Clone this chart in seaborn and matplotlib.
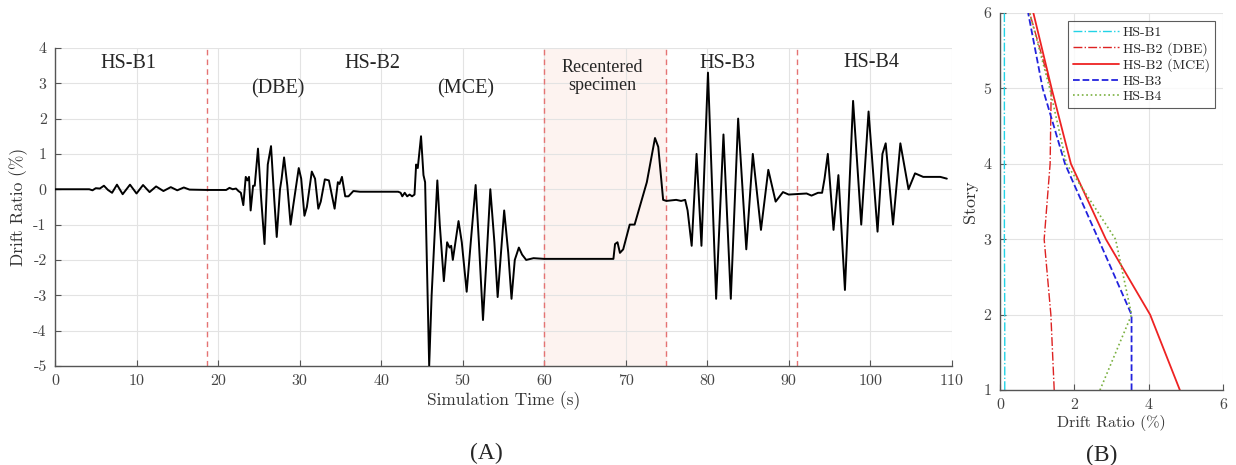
import numpy as np
import pandas as pd
import matplotlib
matplotlib.use("Agg")
import matplotlib.pyplot as plt
import seaborn as sns

# time history (roof drift) - peaks
time_s = [0, 4.2, 4.6, 5.0, 5.5, 6.0, 6.5, 7.0, 7.6, 8.3, 9.2, 10.0, 10.8, 11.6, 12.4, 13.3, 14.2, 15.0, 15.8, 16.5,
          18.7, 21.0, 21.4, 21.8, 22.2, 22.5,
          22.8, 23.1, 23.4, 23.6, 23.8, 24.0, 24.3, 24.5, 24.9, 25.3, 25.7, 26.1, 26.5, 26.9, 27.2, 27.6, 27.8, 28.1,
          28.5, 28.9, 29.2, 29.9, 30.2, 30.6, 30.9, 31.5, 31.9, 32.3, 32.6, 33.1, 33.6, 34.3, 34.7, 34.9, 35.2, 35.6,
          36.0, 36.6, 37.4, 42.1, 42.4, 42.6, 42.9, 43.2, 43.5, 43.8, 44.1,
          44.3, 44.5, 44.9, 45.2, 45.4, 45.9, 46.2, 46.9, 47.2, 47.7, 48.1, 48.4, 48.6, 48.8, 49.5, 49.9, 50.5, 51.0,
          51.6, 52.0, 52.5, 53.0, 53.4, 53.9, 54.3, 55.1, 55.6, 56.0, 56.4, 56.9, 57.3, 57.8, 58.7, 60, 68.5, 68.7,
          69.0, 69.3, 69.7, 70.5, 71.1, 72.6, 73.6, 74.0, 74.6, 75, 76.2, 76.8, 77.3,
          77.6, 78.1, 78.7, 79.3, 80.1, 81.1, 82.0, 82.9, 83.8, 84.8, 85.6, 86.6, 87.5, 88.4, 89.3, 90, 92.2, 92.8,
          93.6, 94.1,
          94.4, 94.8, 95.5, 96.1, 96.9, 97.9, 98.9, 99.8, 100.6, 100.9, 101.5, 101.9, 102.8, 103.7, 104.7, 105.5,
          106.5, 108.6, 109.4]
drift_pct = [0, 0.0, -0.03, 0.03, 0.02, 0.1, -0.02, -0.1, 0.13, -0.14, 0.13, -0.12, 0.12, -0.08, 0.08, -0.05, 0.06,
             -0.03, 0.05, -0.01,
             -0.02, -0.02, 0.04, 0.0, 0.02, -0.05,
             -0.1, -0.45, 0.35, 0.25, 0.35, -0.6, 0.1, 0.1, 1.15, -0.3, -1.55, 0.7, 1.22, -0.3, -1.35, 0.0, 0.3, 0.9,
             0.1, -1.0, -0.5, 0.6, 0.3, -0.75, -0.5, 0.5, 0.3, -0.55, -0.35, 0.28, 0.25, -0.55, 0.2, 0.15, 0.35, -0.2,
             -0.2, -0.05, -0.07, -0.07, -0.1, -0.2, -0.1, -0.2, -0.15, -0.2, -0.15,
             0.7, 0.6, 1.5, 0.4, 0.2, -5.0, -3.0, 0.25, -1.0, -2.6, -1.5, -1.65, -1.6, -2.0, -0.9, -1.5, -2.9, -1.5,
             0.12, -1.5, -3.7, -1.7, 0.0, -1.5, -3.05, -0.6, -1.8, -3.1, -2.0, -1.65, -1.85, -2.0, -1.95, -1.97,
             -1.97, -1.55,
             -1.5, -1.8, -1.7, -1.0, -1.0, 0.2, 1.45, 1.2, -0.3, -0.33, -0.3, -0.33, -0.3,
             -0.6, -1.6, 1.0, -1.6, 3.3, -3.1, 1.55, -3.1, 2.0, -1.7, 1.0, -1.15, 0.55, -0.35, -0.08, -0.15, -0.12,
             -0.18, -0.1, -0.1,
             0.3, 1.0, -1.15, 0.4, -2.85, 2.5, -1.0, 2.2, -0.3, -1.2, 1.0, 1.3, -1.0, 1.3, 0.0, 0.45,
             0.35, 0.35, 0.3]

# test boundaries and labels
boundaries = [18.7, 60, 75, 91]
recenter_span = (60, 75)
label_text = ["HS-B1", "HS-B2", "(DBE)", "(MCE)", "Recentered\nspecimen", "HS-B3", "HS-B4"]
label_t = [9.0, 38.9, 27.3, 50.4, 67.1, 82.5, 100.1]
label_v = [3.57, 3.57, 2.83, 2.83, 3.2, 3.57, 3.6]

# max story drift profiles
stories = [1, 2, 3, 4, 5, 6]
profiles = {
    "HS-B1": [0.13, 0.13, 0.12, 0.12, 0.12, 0.12],
    "HS-B2 (DBE)": [1.46, 1.37, 1.19, 1.35, 1.38, 0.8],
    "HS-B2 (MCE)": [4.84, 4.04, 2.85, 1.91, 1.39, 0.9],
    "HS-B3": [3.54, 3.54, 2.65, 1.75, 1.15, 0.76],
    "HS-B4": [2.69, 3.54, 3.11, 1.79, 1.34, 0.8],
}
styles = {
    "HS-B1": dict(color="#22d3e6", ls="-.", lw=1.0),
    "HS-B2 (DBE)": dict(color="#dd2222", ls="-.", lw=1.0),
    "HS-B2 (MCE)": dict(color="#ee2222", ls="-", lw=1.3),
    "HS-B3": dict(color="#2222dd", ls="--", lw=1.3),
    "HS-B4": dict(color="#7ab040", ls=":", lw=1.2),
}

sns.set_style("whitegrid")
plt.rcParams["font.family"] = ["cmr10", "DejaVu Serif"]
plt.rcParams["axes.unicode_minus"] = False
plt.rcParams["mathtext.fontset"] = "cm"

fig = plt.figure(figsize=(12.36, 4.65), dpi=100)
ax1 = fig.add_axes([0.0445, 0.213, 0.7255, 0.684])
ax2 = fig.add_axes([0.809, 0.161, 0.1805, 0.811])

grid_kw = dict(color="#e3e3e3", lw=0.8)

# (A) time history
ax1.axvspan(*recenter_span, color="#fdf3f0", zorder=0)
for b in boundaries:
    ax1.axvline(b, color="#e57373", ls=(0, (4, 3)), lw=1.0, zorder=1)
df = pd.DataFrame({"t": time_s, "v": drift_pct})
sns.lineplot(data=df, x="t", y="v", ax=ax1, color="black", lw=1.4, sort=False, estimator=None, zorder=3,
             solid_joinstyle="round")
for txt, tx, ty in zip(label_text, label_t, label_v):
    ax1.text(tx, ty, txt, ha="center", va="center", fontsize=14.5 if "\n" not in txt else 13,
             family="Liberation Serif", linespacing=1.1)
ax1.set_xlim(0, 110)
ax1.set_ylim(-5, 4)
ax1.set_xticks(range(0, 111, 10))
ax1.set_yticks(range(-5, 5))
ax1.set_xlabel("Simulation Time (s)", fontsize=12.5, labelpad=2)
ax1.set_ylabel("Drift Ratio (%)", fontsize=12.5, labelpad=4)

# (B) drift profiles
for name, vals in profiles.items():
    st = styles[name]
    sns.lineplot(x=vals, y=stories, ax=ax2, sort=False, estimator=None, label=name,
                 color=st["color"], linestyle=st["ls"], lw=st["lw"])
ax2.set_xlim(0, 6)
ax2.set_ylim(1, 6)
ax2.set_xticks([0, 2, 4, 6])
ax2.set_yticks(range(1, 7))
ax2.set_xlabel("Drift Ratio (%)", fontsize=11.5, labelpad=2)
ax2.set_ylabel("Story", fontsize=13, labelpad=4)
leg = ax2.legend(loc="upper right", bbox_to_anchor=(0.975, 0.985), frameon=True, fancybox=False,
                 handlelength=3.3, handletextpad=0.3, borderpad=0.35, labelspacing=0.2, borderaxespad=0.2,
                 prop={"family": "cmr10", "size": 10})
leg.get_frame().set_edgecolor("#333333")
leg.get_frame().set_linewidth(0.8)

for ax in (ax1, ax2):
    ax.grid(True, **grid_kw)
    for side in ("top", "right"):
        ax.spines[side].set_visible(False)
    for side in ("left", "bottom"):
        ax.spines[side].set_color("#555555")
        ax.spines[side].set_linewidth(1.0)
    ax.tick_params(direction="in", length=4, width=0.8, color="#555555", labelcolor="#444444",
                   labelsize=11.5, pad=6, left=True, bottom=True)
    ax.xaxis.label.set_color("#333333")
    ax.yaxis.label.set_color("#333333")
    ax.set_facecolor("white")
ax2.tick_params(labelsize=11.5)

fig.text(486 / 1236, 1 - 453 / 465, "(A)", ha="center", va="center", fontsize=17, family="Liberation Serif")
fig.text(1102 / 1236, 1 - 455 / 465, "(B)", ha="center", va="center", fontsize=17, family="Liberation Serif")

fig.savefig("out.png", dpi=100)
